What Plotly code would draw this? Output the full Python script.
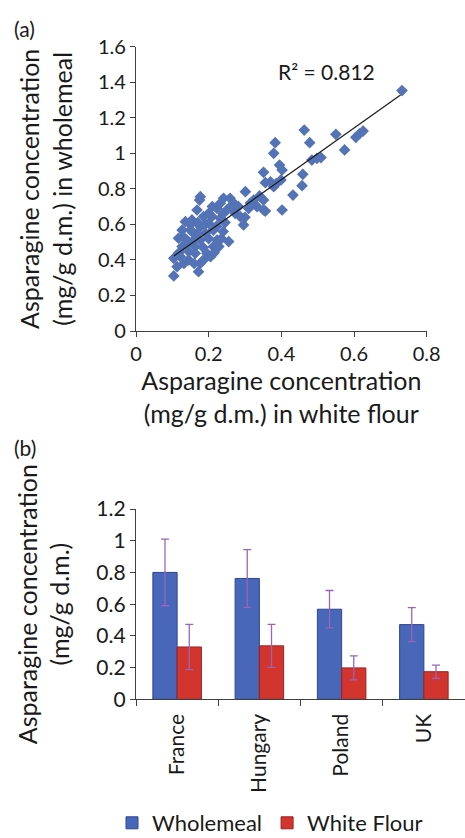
import plotly.graph_objects as go

# ---------------- data ----------------
# panel (a): scatter, white flour (x) vs wholemeal (y), mg/g d.m.
white_flour = [
    0.732, 0.463, 0.478, 0.550, 0.574, 0.605, 0.615, 0.625, 0.383, 0.379,
    0.395, 0.402, 0.399, 0.402, 0.432, 0.457, 0.459, 0.484, 0.498, 0.509,
    0.351, 0.356, 0.370, 0.379, 0.351, 0.351, 0.386, 0.301, 0.324, 0.340,
    0.356, 0.333, 0.310, 0.296, 0.287, 0.273, 0.269, 0.259, 0.241, 0.232,
    0.250, 0.255, 0.282, 0.315, 0.300,
    0.104, 0.113, 0.104, 0.122, 0.117, 0.127, 0.136, 0.150, 0.154, 0.168,
    0.175, 0.177, 0.172, 0.177, 0.163, 0.145, 0.140, 0.159, 0.177, 0.191,
    0.195, 0.205, 0.186, 0.213, 0.223, 0.228, 0.213, 0.200, 0.209, 0.200,
    0.223, 0.232, 0.186, 0.177, 0.168, 0.154, 0.127, 0.163, 0.145, 0.118,
    0.132, 0.190, 0.210, 0.240, 0.222, 0.240, 0.245, 0.150, 0.140, 0.200,
    0.185, 0.160, 0.170, 0.130, 0.215, 0.260, 0.270, 0.235,
]
wholemeal = [
    1.353, 1.131, 1.060, 1.107, 1.019, 1.090, 1.110, 1.125, 1.060, 1.000,
    0.934, 0.906, 0.850, 0.681, 0.765, 0.818, 0.882, 0.962, 0.972, 0.976,
    0.893, 0.835, 0.840, 0.812, 0.737, 0.681, 0.830, 0.784, 0.737, 0.760,
    0.675, 0.700, 0.690, 0.597, 0.644, 0.662, 0.719, 0.747, 0.747, 0.719,
    0.681, 0.503, 0.700, 0.720, 0.640,
    0.310, 0.362, 0.409, 0.418, 0.522, 0.475, 0.615, 0.568, 0.625, 0.681,
    0.737, 0.756, 0.334, 0.381, 0.437, 0.447, 0.512, 0.512, 0.512, 0.550,
    0.437, 0.418, 0.400, 0.475, 0.512, 0.475, 0.568, 0.606, 0.644, 0.662,
    0.690, 0.634, 0.644, 0.587, 0.550, 0.559, 0.568, 0.475, 0.400, 0.440,
    0.380, 0.600, 0.700, 0.660, 0.590, 0.560, 0.610, 0.600, 0.490, 0.520,
    0.470, 0.380, 0.610, 0.530, 0.440, 0.700, 0.680, 0.520,
]
trend_x = [0.104, 0.728]
trend_y = [0.422, 1.328]
r2_label = "R² = 0.812"

# panel (b): bar chart by country
countries = ["France", "Hungary", "Poland", "UK"]
wm_mean = [0.80, 0.762, 0.568, 0.471]
wm_err = [0.21, 0.182, 0.118, 0.107]
wf_mean = [0.330, 0.337, 0.198, 0.174]
wf_err = [0.143, 0.136, 0.076, 0.042]
series_names = ["Wholemeal", "White Flour"]

FONT = "Lato, Carlito, 'Open Sans', sans-serif"
W, H = 465, 838


def px_x(p):
    return p / W


def px_y(p):
    return 1 - p / H


fig = go.Figure()

fig.add_trace(go.Scatter(
    x=white_flour, y=wholemeal, mode="markers",
    marker=dict(symbol="diamond", size=9, color="#5473b6"),
    xaxis="x", yaxis="y", showlegend=False, hoverinfo="x+y",
))
fig.add_trace(go.Scatter(
    x=trend_x, y=trend_y, mode="lines",
    line=dict(color="#1a1a1a", width=1.2),
    xaxis="x", yaxis="y", showlegend=False, hoverinfo="skip",
))

fig.add_trace(go.Bar(
    x=countries, y=wm_mean, name=series_names[0],
    marker=dict(color="#4867b8", line=dict(color="#2c4690", width=1)),
    error_y=dict(type="data", array=wm_err, color="#9a64b8", thickness=1.3, width=4),
    xaxis="x2", yaxis="y2",
))
fig.add_trace(go.Bar(
    x=countries, y=wf_mean, name=series_names[1],
    marker=dict(color="#d2352e", line=dict(color="#9c2020", width=1)),
    error_y=dict(type="data", array=wf_err, color="#9a64b8", thickness=1.3, width=4),
    xaxis="x2", yaxis="y2",
))

axis_common = dict(
    showgrid=False, zeroline=False, showline=True, linecolor="#404040",
    linewidth=1.2, ticks="outside", tickcolor="#404040",
    tickwidth=1.2, automargin=False,
)

fig.update_layout(
    template="none",
    width=W, height=H,
    margin=dict(l=0, r=0, t=0, b=0, pad=0, autoexpand=False),
    paper_bgcolor="white", plot_bgcolor="white",
    font=dict(family=FONT, color="#1a1a1a"),
    barmode="group", bargap=0.41, bargroupgap=0.0,
    xaxis=dict(
        domain=[px_x(136), px_x(426.7)], anchor="y",
        range=[0, 0.8], dtick=0.2, tickformat="~g", ticklen=5,
        tickfont=dict(size=20),
        title=dict(text="Asparagine concentration<br>(mg/g d.m.) in white flour",
                   font=dict(size=25), standoff=7),
        **axis_common,
    ),
    yaxis=dict(
        domain=[px_y(331), px_y(46.7)], anchor="x",
        range=[0, 1.6], dtick=0.2, tickformat="~g", ticklen=5,
        tickfont=dict(size=20),
        title=dict(text="Asparagine concentration<br>(mg/g d.m.) in wholemeal",
                   font=dict(size=25), standoff=18),
        **axis_common,
    ),
    xaxis2=dict(
        domain=[px_x(136), 1.0], anchor="y2",
        range=[-0.5, 3.5], tickson="boundaries", tickangle=-90,
        tickfont=dict(size=21), ticklen=6, ticklabelstandoff=5,
        **axis_common,
    ),
    yaxis2=dict(
        domain=[px_y(699.3), px_y(509)], anchor="x2",
        range=[0, 1.2], dtick=0.2, tickformat="~g", ticklen=5,
        tickfont=dict(size=21),
        title=dict(text="Asparagine concentration<br>(mg/g d.m.)",
                   font=dict(size=25), standoff=19),
        **axis_common,
    ),
    legend=dict(
        orientation="h", x=px_x(112), xanchor="left",
        y=px_y(823), yanchor="middle", font=dict(size=22),
        bgcolor="rgba(0,0,0,0)", xref="container", yref="container",
    ),
    annotations=[
        dict(text="(a)", x=px_x(12), y=px_y(28), xref="paper", yref="paper",
             xanchor="left", yanchor="middle", showarrow=False, font=dict(size=21)),
        dict(text="(b)", x=px_x(12), y=px_y(447), xref="paper", yref="paper",
             xanchor="left", yanchor="middle", showarrow=False, font=dict(size=21)),
        dict(text=r2_label, x=0.523, y=1.46, xref="x", yref="y",
             xanchor="center", yanchor="middle", showarrow=False, font=dict(size=21)),
    ],
)

fig.write_html("out.html")
